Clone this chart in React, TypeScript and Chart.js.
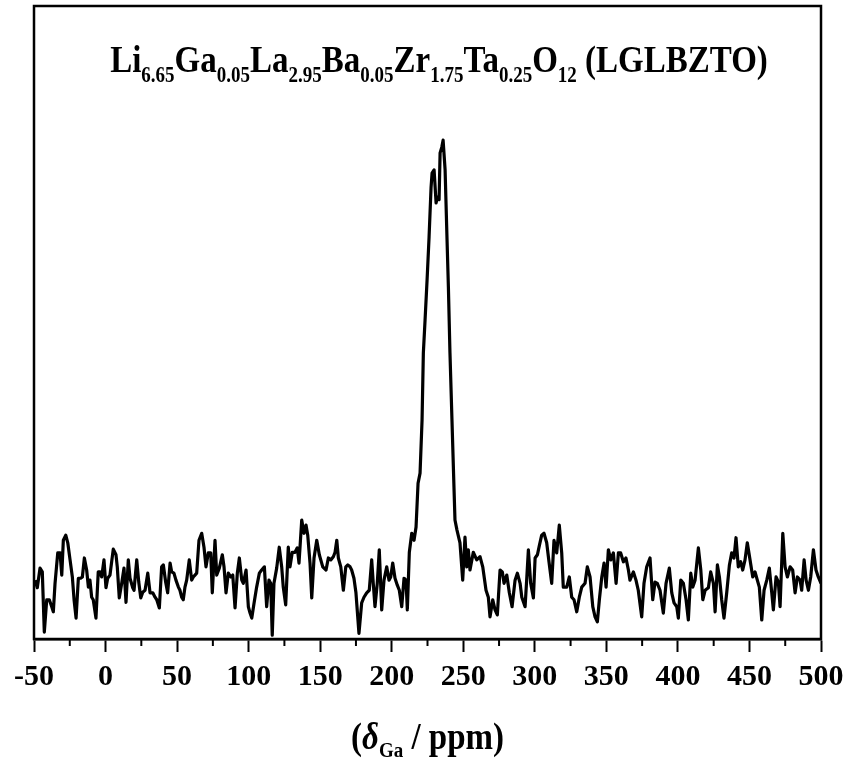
import React, { useEffect, useRef } from 'react';
import { Chart, registerables } from 'chart.js';

Chart.register(...registerables);

// Chemical shift (ppm) of the 71Ga MAS NMR trace
const shiftPpm = [
  -49.3, -47.7, -45.8, -44.2, -42.8, -41.1, -39.3, -37.6, -36.5, -35.3,
  -33.4, -31.8, -30.6, -29.5, -27.8, -26.4, -24.8, -23.2, -22.0, -20.6,
  -19.0, -17.4, -16.2, -14.8, -13.2, -12.0, -10.9, -9.7, -8.6, -6.7,
  -5.1, -3.9, -2.7, -1.1, 0.3, 1.5, 3.1, 5.4, 7.3, 8.2,
  9.6, 11.3, 12.9, 14.3, 15.9, 17.1, 19.0, 19.9, 21.8, 23.2,
  24.6, 26.0, 27.6, 29.5, 31.1, 33.0, 34.6, 35.8, 37.6, 39.2,
  40.4, 42.0, 43.4, 45.1, 46.2, 47.8, 49.2, 50.9, 52.0, 53.2,
  54.3, 55.5, 56.7, 58.5, 60.2, 61.3, 62.5, 63.7, 65.3, 67.2,
  68.8, 70.2, 71.8, 73.5, 74.6, 76.5, 77.7, 79.5, 81.6, 82.8,
  84.2, 85.8, 87.5, 88.9, 90.5, 92.1, 93.5, 95.2, 96.3, 98.2,
  99.8, 101.0, 102.2, 103.8, 105.6, 107.5, 109.1, 111.0, 112.6, 114.2,
  115.4, 116.5, 117.7, 119.6, 121.4, 123.1, 124.2, 125.9, 127.7, 128.9,
  130.5, 132.4, 134.0, 135.2, 137.1, 138.7, 140.1, 141.3, 142.9, 144.1,
  145.7, 147.6, 149.4, 151.8, 154.1, 155.7, 157.4, 159.2, 160.4, 161.6,
  162.7, 164.4, 166.2, 167.9, 169.3, 170.9, 172.0, 173.6, 175.0, 177.1,
  179.0, 180.6, 182.5, 184.3, 186.0, 187.1, 188.3, 189.9, 191.3, 193.0,
  194.6, 196.5, 198.1, 199.3, 200.7, 202.3, 203.9, 205.3, 207.0, 208.6,
  210.0, 210.9, 212.3, 214.0, 215.6, 217.0, 218.4, 219.8, 221.2, 222.1,
  223.3, 224.7, 226.1, 227.5, 228.2, 229.6, 231.0, 231.9, 233.1, 233.8,
  235.0, 235.9, 237.3, 238.6, 239.6, 240.7, 242.1, 243.5, 244.2, 245.6,
  247.7, 249.6, 251.2, 252.4, 253.5, 254.7, 257.0, 259.4, 261.7, 263.6,
  265.9, 267.5, 268.7, 270.6, 272.2, 273.8, 275.7, 277.3, 278.5, 280.4,
  282.2, 284.1, 286.2, 287.8, 289.7, 290.9, 293.2, 294.3, 295.5, 297.1,
  299.0, 300.2, 301.8, 303.2, 304.8, 306.4, 308.3, 309.9, 311.8, 313.4,
  315.3, 317.1, 318.8, 319.9, 322.3, 324.1, 325.8, 327.4, 329.3, 331.1,
  332.8, 335.1, 336.7, 338.6, 340.5, 342.1, 343.7, 345.1, 346.8, 348.4,
  349.8, 351.4, 353.1, 354.9, 356.8, 358.4, 360.0, 361.9, 363.7, 365.4,
  366.5, 368.9, 370.7, 372.3, 374.7, 376.3, 378.2, 380.5, 382.4, 384.0,
  385.6, 387.5, 389.8, 391.7, 394.0, 395.7, 397.3, 399.2, 400.3, 402.0,
  403.8, 405.7, 407.3, 409.0, 410.4, 412.0, 414.3, 416.0, 417.4, 419.0,
  421.3, 422.9, 424.8, 426.0, 427.6, 429.0, 430.6, 432.2, 434.1, 436.0,
  437.6, 439.2, 440.6, 442.2, 443.9, 445.3, 446.9, 448.5, 450.4, 452.3,
  453.9, 455.5, 456.9, 458.6, 460.2, 462.1, 463.9, 465.6, 466.7, 468.6,
  470.2, 471.4, 473.3, 474.9, 476.5, 478.4, 480.2, 481.9, 483.5, 485.4,
  486.5, 488.2, 489.6, 491.2, 492.8, 494.7, 496.5, 498.1, 500.0,
];

// Intensity (arbitrary units, 0 at the bottom of the frame)
const intensity = [
  9.3, 8.1, 11.2, 10.6, 1.1, 6.2, 6.2, 5.1, 4.3, 8.8,
  13.6, 13.6, 10.1, 15.6, 16.4, 15.2, 12.5, 9.8, 6.2, 3.3,
  9.6, 9.6, 9.8, 12.8, 10.9, 8.2, 9.3, 6.6, 6.2, 3.3,
  10.6, 10.6, 9.8, 12.5, 8.1, 9.6, 10.1, 14.2, 13.3, 11.4,
  6.5, 8.8, 11.2, 5.8, 12.5, 9.6, 8.1, 7.7, 12.5, 9.0,
  6.5, 7.4, 7.7, 10.4, 7.3, 7.3, 6.6, 6.2, 4.9, 11.4,
  11.7, 9.0, 7.3, 12.0, 10.6, 10.4, 9.3, 8.2, 7.7, 6.6,
  6.2, 8.2, 9.3, 12.5, 9.3, 9.8, 10.1, 10.4, 15.6, 16.7,
  14.5, 11.4, 13.6, 13.6, 7.3, 15.6, 10.1, 11.2, 13.3, 11.4,
  7.3, 10.4, 9.8, 10.1, 4.9, 10.4, 12.8, 9.3, 8.8, 10.9,
  5.1, 4.1, 3.3, 5.7, 8.2, 10.4, 10.9, 11.4, 5.1, 9.3,
  8.8, 0.6, 8.8, 11.2, 14.5, 11.4, 8.2, 5.4, 14.5, 11.4,
  13.7, 13.7, 14.4, 12.0, 18.8, 16.7, 18.0, 16.4, 12.0, 6.5,
  12.8, 15.6, 13.3, 11.4, 10.9, 12.8, 12.5, 13.0, 13.7, 15.6,
  12.8, 11.4, 7.7, 11.4, 11.7, 11.4, 10.9, 9.6, 7.3, 0.9,
  5.7, 6.6, 7.3, 7.7, 12.5, 8.8, 5.1, 8.8, 14.1, 4.6,
  9.3, 11.4, 9.3, 9.8, 12.0, 9.6, 8.5, 7.7, 5.1, 9.6,
  9.3, 4.6, 13.7, 16.7, 15.6, 17.7, 24.6, 26.2, 34.6, 45.2,
  50.4, 56.7, 63.5, 71.4, 73.6, 74.1, 68.9, 69.8, 69.4, 76.8,
  77.7, 78.8, 74.1, 63.5, 55.6, 45.2, 34.6, 24.0, 18.8, 17.2,
  15.2, 9.3, 16.1, 11.4, 14.1, 10.9, 13.7, 12.5, 13.0, 11.4,
  7.7, 6.6, 3.5, 6.2, 4.6, 3.8, 10.9, 10.6, 8.8, 10.1,
  7.3, 5.1, 9.3, 10.4, 8.8, 6.6, 5.1, 9.3, 14.1, 8.8,
  6.5, 12.8, 13.3, 14.8, 16.4, 16.7, 15.2, 12.2, 8.8, 15.6,
  13.6, 18.0, 13.6, 8.2, 8.2, 9.8, 6.6, 6.2, 4.3, 6.6,
  8.2, 8.8, 11.4, 9.8, 5.1, 3.5, 2.7, 6.2, 9.8, 12.0,
  8.2, 14.1, 12.5, 13.6, 8.8, 13.6, 13.6, 12.2, 12.8, 10.9,
  9.3, 10.6, 9.3, 7.7, 3.5, 8.8, 11.4, 12.8, 6.2, 9.0,
  8.8, 7.7, 4.1, 8.8, 11.2, 7.3, 5.7, 5.1, 3.3, 9.3,
  8.8, 6.2, 3.0, 10.4, 8.2, 9.3, 14.4, 10.9, 6.2, 7.7,
  8.1, 10.6, 8.8, 4.3, 11.7, 9.8, 6.2, 3.3, 7.3, 11.7,
  13.6, 12.8, 16.0, 11.4, 12.2, 10.9, 12.5, 15.2, 12.5, 9.8,
  10.6, 9.3, 8.2, 3.0, 7.7, 9.3, 11.2, 7.3, 4.6, 9.8,
  9.0, 5.1, 16.7, 11.4, 9.8, 11.4, 10.9, 7.3, 9.8, 9.3,
  7.7, 12.5, 9.3, 7.7, 9.8, 14.1, 10.9, 9.8, 8.8,
];

const xMin = -50;
const xMax = 500;
const xMajorStep = 50;
const xMinorStep = 25;

const titleElements = ['Li', 'Ga', 'La', 'Ba', 'Zr', 'Ta', 'O'];
const titleSubscripts = ['6.65', '0.05', '2.95', '0.05', '1.75', '0.25', '12'];
const titleSuffix = ' (LGLBZTO)';

const axisSymbol = 'δ';
const axisSubscript = 'Ga';
const axisUnit = ' / ppm)';

const SERIF = '"Liberation Serif", "Times New Roman", serif';

type Part = { text: string; sub?: boolean; italic?: boolean };

function drawRich(
  ctx: CanvasRenderingContext2D,
  parts: Part[],
  cx: number,
  baseline: number,
  size: number,
  subSize: number,
  subDy: number,
  stretchY: number
) {
  const fontFor = (p: Part) =>
    `${p.italic ? 'italic ' : ''}bold ${p.sub ? subSize : size}px ${SERIF}`;
  let total = 0;
  for (const p of parts) {
    ctx.font = fontFor(p);
    total += ctx.measureText(p.text).width;
  }
  ctx.save();
  ctx.translate(cx - total / 2, baseline);
  ctx.scale(1, stretchY);
  let x = 0;
  ctx.textAlign = 'left';
  ctx.textBaseline = 'alphabetic';
  ctx.fillStyle = '#000';
  for (const p of parts) {
    ctx.font = fontFor(p);
    ctx.fillText(p.text, x, p.sub ? subDy / stretchY : 0);
    x += ctx.measureText(p.text).width;
  }
  ctx.restore();
}

export default function App() {
  const canvasRef = useRef<HTMLCanvasElement>(null);

  useEffect(() => {
    document.body.style.margin = '0';
    document.body.style.overflow = 'hidden';
    const canvas = canvasRef.current;
    if (!canvas) return;

    const decorPlugin = {
      id: 'decor',
      afterDraw(chart: any) {
        const { ctx, chartArea } = chart;
        const xs = chart.scales.x;
        ctx.save();
        // frame
        ctx.strokeStyle = '#000';
        ctx.lineWidth = 2.5;
        ctx.strokeRect(
          chartArea.left,
          chartArea.top,
          chartArea.right - chartArea.left,
          chartArea.bottom - chartArea.top
        );
        // minor ticks
        ctx.lineWidth = 2;
        for (let v = xMin + xMinorStep; v < xMax; v += xMajorStep) {
          const px = xs.getPixelForValue(v);
          ctx.beginPath();
          ctx.moveTo(px, chartArea.bottom);
          ctx.lineTo(px, chartArea.bottom + 7);
          ctx.stroke();
        }
        // title with subscripts
        const titleParts: Part[] = [];
        titleElements.forEach((el, i) => {
          titleParts.push({ text: el });
          titleParts.push({ text: titleSubscripts[i], sub: true });
        });
        titleParts.push({ text: titleSuffix });
        drawRich(ctx, titleParts, 439, 72, 33, 19, 10, 1.18);
        // x axis title
        const axisParts: Part[] = [
          { text: '(' },
          { text: axisSymbol, italic: true },
          { text: axisSubscript, sub: true },
          { text: axisUnit },
        ];
        drawRich(
          ctx,
          axisParts,
          (chartArea.left + chartArea.right) / 2,
          749,
          33,
          19,
          8,
          1.12
        );
        ctx.restore();
      },
    };

    const chart = new Chart(canvas, {
      type: 'line',
      data: {
        datasets: [
          {
            data: shiftPpm.map((x, i) => ({ x, y: intensity[i] })),
            borderColor: '#000',
            borderWidth: 3.2,
            pointRadius: 0,
            tension: 0,
            fill: false,
            borderJoinStyle: 'round',
          },
        ],
      },
      options: {
        animation: false,
        responsive: true,
        maintainAspectRatio: false,
        layout: { padding: { left: 34, right: 30, top: 6, bottom: 0 } },
        plugins: {
          legend: { display: false },
          tooltip: { enabled: false },
          title: { display: false },
        },
        scales: {
          x: {
            type: 'linear',
            min: xMin,
            max: xMax,
            afterFit: (scale: any) => {
              scale.height = 126;
            },
            ticks: {
              stepSize: xMajorStep,
              color: '#000',
              padding: 7,
              font: { family: SERIF, size: 30, weight: 'bold' },
              maxRotation: 0,
              autoSkip: false,
            },
            grid: {
              drawOnChartArea: false,
              tickLength: 13,
              tickColor: '#000',
              tickWidth: 2,
            },
            border: { display: true, color: '#000', width: 2.5 },
          },
          y: {
            display: false,
            min: 0,
            max: 100,
          },
        },
      },
      plugins: [decorPlugin],
    });

    return () => chart.destroy();
  }, []);

  return (
    <div style={{ width: 851, height: 765, position: 'relative' }}>
      <canvas ref={canvasRef} />
    </div>
  );
}
